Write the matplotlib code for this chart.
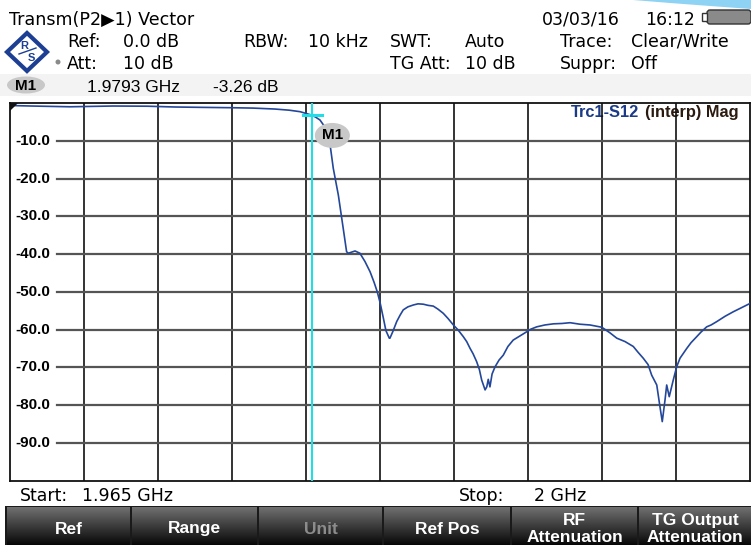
import numpy as np
import matplotlib
matplotlib.use("Agg")
import matplotlib.pyplot as plt
import matplotlib.transforms as mtransforms
from matplotlib.patches import Polygon, Rectangle, Ellipse, FancyBboxPatch

W, H = 751, 545

# sweep settings
start_ghz = 1.965
stop_ghz = 2.0
ref_db = 0.0
range_db = 100.0
n_div = 10

marker_freq = 1.9793
marker_level = -3.26

# trace
freq_ghz = [1.9650, 1.96524, 1.9660, 1.96784, 1.96987, 1.9715, 1.97280, 1.9740,
            1.97550, 1.9765, 1.97753, 1.97820, 1.97872, 1.97930, 1.97947, 1.97966,
            1.97985, 1.97999, 1.98014, 1.98029, 1.98053, 1.98076, 1.98092, 1.98100,
            1.98132, 1.98155, 1.98179, 1.98203, 1.98222, 1.98237, 1.98250, 1.98266,
            1.98278, 1.98294, 1.98297, 1.98311, 1.98329, 1.98345, 1.98360, 1.98382,
            1.98408, 1.98430, 1.98455, 1.98477, 1.98502, 1.98524, 1.98549, 1.98572,
            1.98597, 1.98619, 1.98644, 1.98660, 1.98676, 1.98690, 1.98707, 1.98720,
            1.98731, 1.98747, 1.98755, 1.98762, 1.98770, 1.98780, 1.98794, 1.98813,
            1.98833, 1.98855, 1.98880, 1.98912, 1.98944, 1.98964, 1.98991, 1.99030,
            1.99070, 1.99111, 1.99149, 1.99196, 1.99243, 1.99299, 1.99338, 1.99370,
            1.99409, 1.99448, 1.99470, 1.99495, 1.99518, 1.99535, 1.99559, 1.99574,
            1.99585, 1.99598, 1.99606, 1.99618, 1.99637, 1.99653, 1.99669, 1.99701,
            1.99721, 1.99748, 1.99768, 1.99795, 1.99816, 1.99843, 1.99882, 1.99921,
            1.99957, 2.00000]
level_db = [-0.6, -0.7, -0.8, -1.0, -0.8, -0.85, -1.06, -1.15,
            -1.25, -1.35, -1.6, -1.9, -2.3, -3.26, -3.8, -4.5,
            -6.0, -8.5, -11.1, -17.3, -24.4, -33.2, -39.4, -39.8,
            -39.2, -39.8, -42.0, -44.7, -47.5, -50.0, -52.8, -57.0,
            -60.3, -62.3, -62.3, -60.5, -57.9, -56.2, -54.8, -54.0,
            -53.5, -53.2, -53.3, -53.6, -53.8, -54.6, -55.7, -57.1,
            -58.8, -60.1, -61.9, -63.2, -65.0, -66.4, -68.5, -70.6,
            -73.4, -76.0, -75.2, -73.2, -75.2, -71.8, -69.9, -68.1,
            -66.8, -64.5, -62.8, -61.7, -60.6, -59.9, -59.3, -58.8,
            -58.5, -58.4, -58.2, -58.6, -58.8, -59.4, -60.9, -62.3,
            -63.2, -64.5, -66.0, -67.6, -69.3, -72.1, -74.7, -80.4,
            -84.4, -78.7, -74.7, -77.8, -73.4, -69.9, -67.6, -65.0,
            -63.5, -61.9, -60.7, -59.3, -58.8, -57.9, -56.5, -55.3,
            -54.3, -53.1]

y_ticks = [-10.0, -20.0, -30.0, -40.0, -50.0, -60.0, -70.0, -80.0, -90.0]

header_left = [("Ref:", "0.0 dB"), ("Att:", "10 dB")]
header_mid = [("SWT:", "Auto"), ("TG Att:", "10 dB")]
header_right = [("Trace:", "Clear/Write"), ("Suppr:", "Off")]
rbw = ("RBW:", "10 kHz")
date_str = "03/03/16"
time_str = "16:12"

softkeys = ["Ref", "Range", "Unit", "Ref Pos", "RF\nAttenuation", "TG Output\nAttenuation"]
softkey_on = [True, True, False, True, True, True]

plt.rcParams['font.family'] = ['Liberation Sans', 'DejaVu Sans']
WIDE = ['DejaVu Sans']

fig = plt.figure(figsize=(W / 100, H / 100), dpi=100)
fig.patch.set_facecolor("white")

# full-figure pixel axes for the instrument chrome
bg = fig.add_axes([0, 0, 1, 1], zorder=0)
bg.set_xlim(0, W)
bg.set_ylim(H, 0)
bg.axis("off")

def put(x, y, s, size=12.5, **kw):
    kw.setdefault("va", "baseline")
    kw.setdefault("ha", "left")
    kw.setdefault("color", "black")
    bg.text(x, y, s, fontsize=size, **kw)

# light blue swoosh top right
bg.add_patch(Polygon([(633, 0), (751, 0), (751, 9), (710, 6), (670, 3)],
                     closed=True, fc="#8fd3f4", ec="none"))

put(9, 25, "Transm(P2\u25B61) Vector", 12.6, family=WIDE)
put(542, 25, date_str, 12.5, family=WIDE)
put(645, 25, time_str, 12.5, family=WIDE)
# battery
bg.add_patch(FancyBboxPatch((707, 10), 44, 14, boxstyle="round,pad=0,rounding_size=3",
                            fc="#8a8a8a", ec="#333", lw=1))
bg.add_patch(Rectangle((702, 13), 5, 8, fc="white", ec="#333", lw=1))

# R&S logo
bg.add_patch(Polygon([(27, 33), (47, 52), (27, 71), (7, 52)], closed=True,
                     fc="white", ec="#1c3f94", lw=3))
bg.text(24, 46, "R", fontsize=8, color="#1c3f94", ha="center", va="center", fontweight="bold")
bg.text(31, 58, "S", fontsize=8, color="#1c3f94", ha="center", va="center", fontweight="bold")
bg.plot([19, 36], [54, 48], color="#1c3f94", lw=1)
bg.add_patch(Ellipse((58, 62), 5, 5, fc="#8a8a8a", ec="none"))

rows_y = [47, 69]
for (lab, val), y in zip(header_left, rows_y):
    put(67, y, lab, family=WIDE)
    put(123, y, val, family=WIDE)
put(243, 47, rbw[0], family=WIDE)
put(308, 47, rbw[1], family=WIDE)
for (lab, val), y in zip(header_mid, rows_y):
    put(390, y, lab, family=WIDE)
    put(465, y, val, family=WIDE)
for (lab, val), y in zip(header_right, rows_y):
    put(560, y, lab, family=WIDE)
    put(631, y, val, family=WIDE)

# marker info bar
bg.add_patch(Rectangle((0, 74), W, 22, fc="#f3f3f3", ec="none"))
bg.add_patch(Ellipse((26, 85), 38, 17, fc="#c8c8c8", ec="none"))
bg.text(26, 85.5, "M1", fontsize=11, fontweight="bold", ha="center", va="center")
put(87, 92, f"{marker_freq:.4f} GHz", 12.5)
put(213, 92, f"{marker_level:.2f} dB", 12.5)

# start / stop
put(20, 501, "Start:", 12.5, family=WIDE)
put(82, 501, f"{start_ghz:.3f} GHz", 12.5, family=WIDE)
put(459, 501, "Stop:", 12.5, family=WIDE)
put(534, 501, f"{stop_ghz:g} GHz", 12.5, family=WIDE)

# softkeys
bg.add_patch(Rectangle((5, 506), W - 5, H - 506, fc="#1a1a1a", ec="none"))
key_x = [(7, 130), (132, 257), (259, 382), (384, 510), (512, 637), (639, 751)]
grad = np.linspace(0.44, 0.03, 64).reshape(-1, 1)
for (x0, x1), lab, on in zip(key_x, softkeys, softkey_on):
    bg.imshow(grad, cmap="gray", vmin=0, vmax=1, aspect="auto",
              extent=(x0, x1, H, 507), zorder=1)
    bg.text((x0 + x1) / 2, 529, lab, fontsize=12.5, fontweight="bold",
            color="white" if on else "#8c8c8c", ha="center", va="center",
            linespacing=1.15, zorder=2)

# measurement diagram
ax = fig.add_axes([10 / W, (H - 480.5) / H, 740 / W, 377.5 / H], zorder=2)
ax.set_xlim(start_ghz, stop_ghz)
ax.set_ylim(ref_db - range_db, ref_db)
ax.set_xticks([])
ax.set_yticks([])
ax.set_facecolor("white")
for sp in ax.spines.values():
    sp.set_color("#111")
    sp.set_linewidth(1.3)

step = (stop_ghz - start_ghz) / n_div
for i in range(1, n_div):
    ax.axvline(start_ghz + i * step, color="#111", lw=1.2, zorder=2)

blend = mtransforms.blended_transform_factory(ax.transAxes, ax.transData)
for yv in y_ticks:
    ax.axhline(yv, xmin=0.0635, color="#555", lw=1.6, zorder=2)
    ax.text(0.007, yv, f"{yv:.1f}", transform=blend, fontsize=11,
            fontweight="bold", ha="left", va="center", zorder=3)

ax.text(0.758, 0.976, "Trc1-S12", transform=ax.transAxes, fontsize=11.8,
        fontweight="bold", color="#1b3a87", ha="left", va="center", zorder=1.5)
ax.text(0.858, 0.976, "(interp) Mag", transform=ax.transAxes, fontsize=11.8,
        fontweight="bold", color="#2a1a10", ha="left", va="center", zorder=1.5)

# reference level triangle
ax.add_patch(Polygon([(0, 1), (0.011, 1), (0, 0.979)], closed=True,
                     transform=ax.transAxes, fc="#111", ec="none", zorder=5))

ax.axvline(marker_freq, color="#22dde6", lw=1.5, zorder=3)
ax.plot(freq_ghz, level_db, color="#24479a", lw=1.2, zorder=4)
half = 9.5 * (stop_ghz - start_ghz) / 740
ax.plot([marker_freq - half, marker_freq + half], [marker_level, marker_level],
        color="#22dde6", lw=2.2, zorder=5)
ax.annotate("M1", xy=(marker_freq, marker_level), xytext=(14.4, -14.5),
            textcoords="offset points", fontsize=11, fontweight="bold",
            ha="center", va="center", zorder=6,
            bbox=dict(boxstyle="ellipse,pad=0.12", fc="#c8c8c8", ec="none"))

fig.savefig("out.png", dpi=100)
